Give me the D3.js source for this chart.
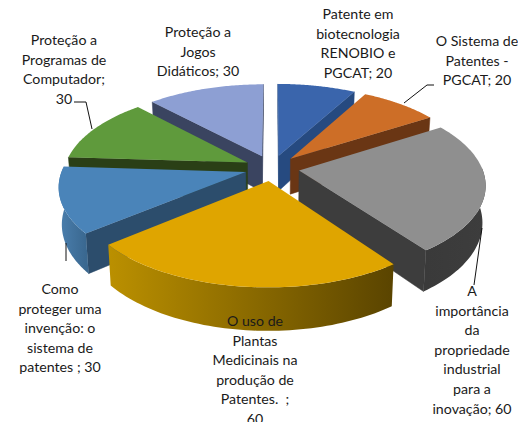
<!DOCTYPE html>
<html>
<head>
<meta charset="utf-8">
<style>
	html, body { margin: 0; padding: 0; background: #fff; }
	svg { display: block; }
	text { font-family: Lato, "Open Sans", sans-serif; font-size: 14.2px; fill: #1a1a1a; }
</style>
</head>
<body>
<div id="chart"></div>
<script src="https://cdn.jsdelivr.net/npm/d3@7"></script>
<script>
// ****************** data ******************
const values = [20, 20, 60, 60, 30, 30, 30]
const labels = [
	["Patente em", "biotecnologia", "RENOBIO e", "PGCAT; 20"],
	["O Sistema de", "Patentes -", "PGCAT; 20"],
	["A", "importância", "da", "propriedade", "industrial", "para a", "inovação; 60"],
	["O uso de", "Plantas", "Medicinais na", "produção de", "Patentes.  ;", "60"],
	["Como", "proteger uma", "invenção: o", "sistema de", "patentes ; 30"],
	["Proteção a", "Programas de", "Computador;", "30"],
	["Proteção a", "Jogos", "Didáticos; 30"]
]
const topColors = ["#3a65ac", "#cd6e27", "#8f8f8f", "#dfa500", "#4a84b9", "#5f9a3c", "#8d9fd3"]
const sideColors = ["#264a80", "#6a3614", "#3d3d3d", "#5e4700", "#2c4d6c", "#2a3f16", "#3a4460"]
const wallFrom = [null, null, "#3d3d3d", "#bb9000", "#4b7fae", null, null]
const wallTo = [null, null, "#3a3a3a", "#5a4400", "#3a6890", null, null]
const drawOrder = [6, 0, 1, 5, 4, 2, 3]

// ****************** layout ******************
const width = 518
const height = 422
const cx = 272
const cy = 168
const rx = 183
const ry = 86
const persp = 0.15
const explode = 0.15
const depth = 36

const labelCenters = [358, 477, 472, 255, 60, 64, 198]
const labelTops = [14, 41, 291, 321, 289, 40, 32]
const lineGap = 19.6

const svg = d3.select("#chart")
	.append("svg")
	.attr("width", width)
	.attr("height", height)

const defs = svg.append("defs")

// x, y on the unit disc (y towards the viewer), z = 0 top, z = 1 bottom
const project = (x, y, z) => {
	const s = 1 / (1 - persp * y)
	const px = cx + rx * x * s * (1 - 0.015 * z)
	const py = cy + ry * y * s + depth * s * z
	return [px, py]
}

const pieGen = d3.pie().sort(null).value(d => d)
const arcs = pieGen(values)
const line = d3.line()

const polygon = (pts) => line(pts) + "Z"
const signedArea = (pts) => d3.polygonArea(pts)

drawOrder.forEach(i => {
	const a = arcs[i]
	const mid = (a.startAngle + a.endAngle) / 2
	const ox = explode * Math.sin(mid)
	const oy = -explode * Math.cos(mid)
	const rim = (t, z) => project(ox + Math.sin(t), oy - Math.cos(t), z)
	const apex = (z) => project(ox, oy, z)
	const steps = d3.range(0, 61).map(k => a.startAngle + (a.endAngle - a.startAngle) * k / 60)

	const g = svg.append("g")

	// radial cut walls, only the ones that face the viewer
	const walls = [
		[apex(0), rim(a.startAngle, 0), rim(a.startAngle, 1), apex(1)],
		[rim(a.endAngle, 0), apex(0), apex(1), rim(a.endAngle, 1)]
	]
	walls.forEach(w => {
		if (signedArea(w) > 0) {
			g.append("path")
				.attr("d", polygon(w))
				.attr("fill", sideColors[i])
				.attr("stroke", sideColors[i])
				.attr("stroke-width", 0.5)
		}
	})

	// curved outer wall
	const front = steps.filter(t => -Math.cos(t) + oy > -0.02)
	if (front.length > 1 && wallFrom[i]) {
		const topEdge = front.map(t => rim(t, 0))
		const botEdge = front.map(t => rim(t, 1)).reverse()
		const xs = topEdge.map(p => p[0])
		const gradId = "wall" + i
		const grad = defs.append("linearGradient")
			.attr("id", gradId)
			.attr("gradientUnits", "userSpaceOnUse")
			.attr("x1", i == 3 ? d3.min(xs) : d3.max(xs))
			.attr("x2", i == 3 ? d3.max(xs) : d3.min(xs))
			.attr("y1", 0)
			.attr("y2", 0)
		grad.append("stop").attr("offset", 0).attr("stop-color", i == 4 ? wallTo[i] : wallFrom[i])
		grad.append("stop").attr("offset", 1).attr("stop-color", i == 4 ? wallFrom[i] : wallTo[i])
		g.append("path")
			.attr("d", polygon(topEdge.concat(botEdge)))
			.attr("fill", "url(#" + gradId + ")")
	}

	// top face
	g.append("path")
		.attr("d", polygon([apex(0)].concat(steps.map(t => rim(t, 0)))))
		.attr("fill", topColors[i])
})

// ****************** leader lines ******************
const leaders = [
	[[74, 102], [86, 102], [92, 129]],
	[[404, 103], [427, 85], [434, 85]],
	[[482, 228], [474, 285]],
	[[66, 243], [66, 261]]
]
leaders.forEach(l => {
	svg.append("path")
		.attr("d", line(l))
		.attr("fill", "none")
		.attr("stroke", "#111")
		.attr("stroke-width", 1)
})

// ****************** labels ******************
labels.forEach((lines, i) => {
	const t = svg.append("text")
		.attr("text-anchor", "middle")
		.attr("xml:space", "preserve")
	lines.forEach((s, k) => {
		t.append("tspan")
			.attr("x", labelCenters[i])
			.attr("y", labelTops[i] + k * lineGap)
			.attr("dy", "0.35em")
			.text(s)
	})
})
</script>
</body>
</html>
